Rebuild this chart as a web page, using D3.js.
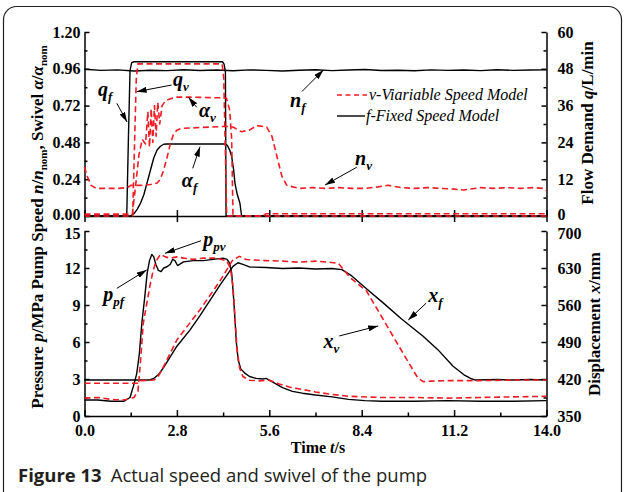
<!DOCTYPE html>
<html>
<head>
<meta charset="utf-8">
<script src="https://cdn.jsdelivr.net/npm/d3@7"></script>
<style>
  body { margin: 0; background: #fff; }
</style>
</head>
<body>
<div id="chart"></div>
<script>

// tick labels
var timeTicks = [0, 2.8, 5.6, 8.4, 11.2, 14];
var ratioTicks = [0, 0.24, 0.48, 0.72, 0.96, 1.2];
var flowTicks = [0, 12, 24, 36, 48, 60];
var pressTicks = [0, 3, 6, 9, 12, 15];
var dispTicks = [350, 420, 490, 560, 630, 700];

// top panel, pump speed n/n_nom (fixed model)
var nfT = [0, 0.5, 1, 1.5, 2, 2.5, 3, 3.5, 4, 4.5, 5, 5.5, 6, 6.5, 7, 7.5, 8, 8.5, 9, 9.5, 10, 10.5, 11, 11.5, 12, 12.5, 13, 13.5, 14];
var nfV = [0.957, 0.950, 0.953, 0.946, 0.951, 0.948, 0.954, 0.949, 0.952, 0.947, 0.953, 0.950, 0.946, 0.951, 0.954, 0.948, 0.952, 0.955, 0.949, 0.951, 0.947, 0.953, 0.950, 0.952, 0.948, 0.954, 0.950, 0.952, 0.953];

// pump speed (variable model)
var nvT = [0, 0.08, 0.2, 0.35, 0.7, 1.0, 1.3, 1.4, 1.7, 2.0, 2.2, 2.3, 2.4, 2.5, 2.6, 2.7, 2.8, 2.95, 3.3, 3.8, 4.3, 4.5, 4.75, 5.0, 5.22, 5.52, 5.68, 5.83, 5.98, 6.13, 6.5, 6.9, 7.3, 7.7, 8.1, 8.5, 8.9, 9.2, 9.6, 10.0, 10.4, 10.8, 11.2, 11.5, 12.0, 12.4, 12.8, 13.2, 13.6, 13.9, 14];
var nvV = [0.32, 0.26, 0.20, 0.18, 0.18, 0.18, 0.185, 0.2, 0.2, 0.205, 0.215, 0.24, 0.3, 0.38, 0.47, 0.535, 0.56, 0.572, 0.575, 0.58, 0.585, 0.58, 0.55, 0.56, 0.59, 0.58, 0.52, 0.39, 0.26, 0.2, 0.18, 0.185, 0.18, 0.185, 0.18, 0.18, 0.19, 0.2, 0.185, 0.18, 0.185, 0.18, 0.175, 0.17, 0.185, 0.18, 0.185, 0.18, 0.185, 0.18, 0.165];

// swivel alpha/alpha_nom
var afT = [0, 1.38, 1.5, 1.6, 1.7, 1.8, 1.9, 2.0, 2.1, 2.2, 2.3, 2.4, 2.5, 4.25, 4.33, 4.4, 4.46, 4.52, 4.56, 4.63, 4.71, 4.76, 14];
var afV = [0, 0, 0.015, 0.045, 0.085, 0.14, 0.22, 0.3, 0.38, 0.43, 0.455, 0.468, 0.47, 0.47, 0.46, 0.43, 0.387, 0.3, 0.213, 0.14, 0.083, 0, 0];
var avT = [0, 1.45, 1.55, 1.65, 1.75, 1.85, 1.92, 1.97, 2.02, 2.07, 2.12, 2.17, 2.22, 2.28, 2.35, 2.45, 2.6, 2.8, 3.2, 4.3, 4.4, 4.46, 4.5, 5.4, 5.5, 14];
var avV = [0.012, 0.012, 0.2, 0.4, 0.5, 0.47, 0.68, 0.45, 0.7, 0.48, 0.72, 0.52, 0.74, 0.6, 0.72, 0.75, 0.765, 0.775, 0.775, 0.77, 0.69, 0.5, 0, 0, 0.015, 0.015];

// flow demand q (L/min)
var qfT = [0, 1.28, 1.33, 1.38, 1.43, 1.5, 4.18, 4.23, 4.27, 4.29, 14];
var qfV = [0, 0, 25, 47.5, 50, 50.3, 50.3, 49.5, 47, 0, 0];
var qvT = [0, 1.46, 1.52, 1.57, 1.62, 4.17, 4.22, 4.27, 4.31, 14];
var qvV = [0, 0, 25, 45, 49.6, 49.6, 45, 20, 0, 0];

// bottom panel, pump pressure p (MPa)
var ppfT = [0, 0.4, 0.8, 1.2, 1.38, 1.48, 1.58, 1.66, 1.74, 1.82, 1.9, 1.97, 2.04, 2.1, 2.16, 2.24, 2.32, 2.4, 2.5, 2.6, 2.67, 2.74, 2.82, 3.0, 3.3, 3.6, 3.9, 4.2, 4.32, 4.4, 4.46, 4.52, 4.56, 4.6, 4.66, 4.74, 4.85, 5.0, 5.2, 5.4, 5.5, 5.6, 5.8, 6.0, 6.3, 6.6, 7.0, 7.5, 8.0, 8.5, 9.0, 10.0, 11.0, 12.0, 13.0, 14.0];
var ppfV = [1.3, 1.3, 1.2, 1.2, 1.5, 2.4, 3.4, 5.0, 7.6, 9.5, 11.6, 12.6, 13.1, 12.9, 12.3, 11.8, 11.7, 12.0, 12.1, 12.3, 12.7, 12.6, 12.2, 12.5, 12.6, 12.6, 12.7, 12.8, 12.7, 12.4, 11.6, 9.5, 7.8, 6.0, 4.5, 3.8, 3.5, 3.2, 3.05, 3.0, 3.05, 2.9, 2.6, 2.3, 2.0, 1.85, 1.7, 1.55, 1.35, 1.25, 1.2, 1.2, 1.25, 1.2, 1.2, 1.25];
var ppvT = [0, 0.4, 0.8, 1.2, 1.5, 1.62, 1.7, 1.78, 1.88, 1.98, 2.08, 2.18, 2.3, 2.45, 2.6, 2.8, 3.0, 3.3, 3.6, 4.0, 4.3, 4.42, 4.5, 4.56, 4.62, 4.7, 4.8, 5.0, 5.3, 5.6, 5.9, 6.2, 6.6, 7.0, 7.5, 8.0, 9.0, 10.0, 11.0, 12.0, 13.0, 14.0];
var ppvV = [1.45, 1.5, 1.35, 1.3, 1.5, 2.0, 4.5, 7.5, 9.0, 10.5, 11.8, 12.6, 13.1, 12.9, 12.8, 12.9, 12.8, 12.7, 12.8, 12.8, 12.6, 12.0, 10.5, 8.0, 5.5, 3.9, 3.2, 2.9, 2.85, 2.9, 2.6, 2.35, 2.15, 1.95, 1.75, 1.6, 1.5, 1.5, 1.45, 1.5, 1.55, 1.6];

// cylinder displacement x (mm)
var xfT = [0, 1.0, 1.95, 2.1, 2.25, 2.4, 2.8, 3.2, 3.5, 4.1, 4.5, 4.65, 4.8, 5.0, 5.5, 6.0, 6.5, 7.0, 7.5, 7.8, 8.1, 8.5, 9.05, 9.6, 10.26, 10.7, 11.17, 11.5, 11.7, 11.85, 12.5, 13.0, 13.5, 14.0];
var xfV = [418, 418, 418, 421, 429, 442, 482, 513, 540, 597, 633, 640, 637, 632, 631, 629, 630, 628, 629, 627, 615, 593, 564, 534, 501, 476, 444, 428, 421, 418, 419, 418, 419, 418];
var xvT = [0, 1.0, 1.62, 1.7, 2.1, 2.2, 2.3, 2.4, 2.8, 3.5, 4.1, 4.5, 4.7, 4.9, 5.5, 6.0, 6.5, 7.0, 7.4, 7.69, 8.05, 8.55, 9.05, 9.65, 10.1, 10.26, 10.5, 11.0, 12.0, 13.0, 14.0];
var xvV = [412, 412, 412, 417, 418, 422, 432, 444, 494, 551, 605, 646, 652, 646, 644, 643, 641, 643, 641, 639, 612, 586, 533, 469, 422, 415, 416, 417, 417, 418, 418];

var serif = "'Liberation Serif', 'Times New Roman', serif";
var red = "#ee1c24";

var svg = d3.select("#chart")
  .append("svg")
    .attr("width", 624)
    .attr("height", 492)
    .style("font-family", serif);

// frame
svg.append("rect")
  .attr("x", 3.5).attr("y", 6.5).attr("width", 618).attr("height", 520).attr("rx", 13)
  .attr("fill", "none").attr("stroke", "#231f20").attr("stroke-width", 1.2);

var x = d3.scaleLinear().domain([0, 14]).range([84.5, 546.5]);
var yR = d3.scaleLinear().domain([0, 1.2]).range([216, 32]);
var yQ = d3.scaleLinear().domain([0, 60]).range([216, 32]);
var yP = d3.scaleLinear().domain([0, 15]).range([416, 231]);
var yD = d3.scaleLinear().domain([350, 700]).range([416, 231]);

function mids(a) {
  return a.slice(1).map(function(d, i) { return (d + a[i]) / 2; });
}

function addAxis(gen, tx, ty, noDomain) {
  var g = svg.append("g")
    .attr("transform", "translate(" + tx + "," + ty + ")")
    .call(gen);
  g.attr("font-family", serif).attr("font-size", 16).attr("font-weight", "bold");
  g.select(".domain").attr("stroke-width", 1.5);
  g.selectAll(".tick line").attr("stroke-width", 1.5);
  if (noDomain) g.select(".domain").remove();
  return g;
}

// nudge the two labels that meet where the panels join
function nudge(g, value, dy) {
  g.selectAll(".tick text").filter(function(d) { return d === value; }).attr("y", dy);
}

// top panel axes
addAxis(d3.axisBottom(x).tickValues(timeTicks).tickFormat("").tickSizeInner(6).tickSizeOuter(0), 0, 216);
addAxis(d3.axisTop(x).tickValues(timeTicks).tickFormat("").tickSizeInner(6).tickSizeOuter(0), 0, 216, true);
var gl = addAxis(d3.axisLeft(yR).tickValues(ratioTicks).tickFormat(d3.format(".2f")).tickSizeInner(-5).tickSizeOuter(0).tickPadding(4), 84.5, 0);
addAxis(d3.axisLeft(yR).tickValues(mids(ratioTicks)).tickFormat("").tickSizeInner(-3).tickSizeOuter(0), 84.5, 0, true);
var gr = addAxis(d3.axisRight(yQ).tickValues(flowTicks).tickFormat(d3.format("d")).tickSizeInner(-5).tickSizeOuter(0).tickPadding(11), 546.5, 0);
addAxis(d3.axisRight(yQ).tickValues(mids(flowTicks)).tickFormat("").tickSizeInner(-3).tickSizeOuter(0), 546.5, 0, true);
nudge(gl, 0, -2);
nudge(gr, 0, -2);

// bottom panel axes
addAxis(d3.axisBottom(x).tickValues(timeTicks).tickFormat(d3.format(".1f")).tickSizeInner(-6).tickSizeOuter(0).tickPadding(9), 0, 416);
addAxis(d3.axisBottom(x).tickValues(mids(timeTicks)).tickFormat("").tickSizeInner(-3.5).tickSizeOuter(0), 0, 416, true);
var bl = addAxis(d3.axisLeft(yP).tickValues(pressTicks).tickFormat(d3.format("d")).tickSizeInner(-5).tickSizeOuter(0).tickPadding(4), 84.5, 0);
addAxis(d3.axisLeft(yP).tickValues(mids(pressTicks)).tickFormat("").tickSizeInner(-3).tickSizeOuter(0), 84.5, 0, true);
var br = addAxis(d3.axisRight(yD).tickValues(dispTicks).tickFormat(d3.format("d")).tickSizeInner(-5).tickSizeOuter(0).tickPadding(11), 546.5, 0);
addAxis(d3.axisRight(yD).tickValues(mids(dispTicks)).tickFormat("").tickSizeInner(-3).tickSizeOuter(0), 546.5, 0, true);
nudge(bl, 15, 2);
nudge(br, 700, 2);

// curves
function plot(T, V, ys, dashed) {
  var line = d3.line()
    .x(function(d, i) { return x(T[i]); })
    .y(function(d) { return ys(d); });
  svg.append("path")
    .datum(V)
    .attr("d", line)
    .attr("fill", "none")
    .attr("stroke", dashed ? red : "#000")
    .attr("stroke-width", dashed ? 1.6 : 1.4)
    .attr("stroke-dasharray", dashed ? "6,3.5" : null)
    .attr("stroke-linejoin", "round");
}

plot(nfT, nfV, yR, false);
plot(afT, afV, yR, false);
plot(qfT, qfV, yQ, false);
plot(ppfT, ppfV, yP, false);
plot(xfT, xfV, yD, false);

plot(nvT, nvV, yR, true);
plot(avT, avV, yR, true);
plot(qvT, qvV, yQ, true);
plot(ppvT, ppvV, yP, true);
plot(xvT, xvV, yD, true);

// arrow head
svg.append("defs").append("marker")
    .attr("id", "head")
    .attr("viewBox", "0 0 10 6")
    .attr("refX", 10).attr("refY", 3)
    .attr("markerWidth", 10).attr("markerHeight", 6)
    .attr("markerUnits", "userSpaceOnUse")
    .attr("orient", "auto")
  .append("path")
    .attr("d", "M0,0L10,3L0,6Z")
    .attr("fill", "#000");

// annotations (t, value on left-hand scale of each panel)
var notes = [
  {m: "q", s: "f",  ys: yR, t: 0.41, v: 0.783, from: [0.98, 0.735], to: [1.29, 0.613]},
  {m: "q", s: "v",  ys: yR, t: 2.68, v: 0.848, from: [2.64, 0.854], to: [1.58, 0.811]},
  {m: "α", s: "v",  ys: yR, t: 3.47, v: 0.648, from: [3.40, 0.709], to: [3.15, 0.774]},
  {m: "α", s: "f",  ys: yR, t: 2.95, v: 0.191, from: [3.28, 0.311], to: [3.50, 0.452]},
  {m: "n", s: "f",  ys: yR, t: 6.23, v: 0.709, from: [6.59, 0.812], to: [7.24, 0.952]},
  {m: "n", s: "v",  ys: yR, t: 8.20, v: 0.333, from: [8.25, 0.318], to: [7.29, 0.202]},
  {m: "p", s: "pf", ys: yP, t: 0.57, v: 9.32,  from: [0.98, 10.35], to: [1.885, 11.84]},
  {m: "p", s: "pv", ys: yP, t: 3.60, v: 13.78, from: [3.53, 14.21], to: [2.44, 13.19]},
  {m: "x", s: "f",  ys: yP, t: 10.42, v: 9.27, from: [10.35, 9.14], to: [9.81, 7.78]},
  {m: "x", s: "v",  ys: yP, t: 7.24, v: 5.49,  from: [7.72, 6.49], to: [8.90, 7.30]}
];

notes.forEach(function(n) {
  svg.append("line")
    .attr("x1", x(n.from[0])).attr("y1", n.ys(n.from[1]))
    .attr("x2", x(n.to[0])).attr("y2", n.ys(n.to[1]))
    .attr("stroke", "#000").attr("stroke-width", 1)
    .attr("marker-end", "url(#head)");
  var t = svg.append("text")
    .attr("x", x(n.t)).attr("y", n.ys(n.v))
    .attr("font-weight", "bold").attr("font-style", "italic")
    .attr("font-size", 20);
  t.append("tspan").text(n.m);
  t.append("tspan").attr("font-size", 13).attr("dy", 5).text(n.s);
});

// legend
svg.append("line").attr("x1", 337).attr("x2", 367).attr("y1", 95).attr("y2", 95)
  .attr("stroke", red).attr("stroke-width", 1.6).attr("stroke-dasharray", "5,3.5");
svg.append("text").attr("x", 369).attr("y", 100).attr("font-style", "italic").attr("font-size", 16)
  .text("v-Viariable Speed Model");
svg.append("line").attr("x1", 337).attr("x2", 365).attr("y1", 116).attr("y2", 116)
  .attr("stroke", "#000").attr("stroke-width", 1.4);
svg.append("text").attr("x", 366).attr("y", 121).attr("font-style", "italic").attr("font-size", 16)
  .text("f-Fixed Speed Model");

// axis titles
var lt = svg.append("text")
  .attr("transform", "translate(43,227) rotate(-90)")
  .attr("text-anchor", "middle").attr("font-weight", "bold").attr("font-size", 17);
lt.append("tspan").text("Pressure ");
lt.append("tspan").attr("font-style", "italic").text("p");
lt.append("tspan").text("/MPa Pump Speed ");
lt.append("tspan").attr("font-style", "italic").text("n");
lt.append("tspan").text("/");
lt.append("tspan").attr("font-style", "italic").text("n");
lt.append("tspan").attr("font-size", 11).attr("dy", 4).text("nom");
lt.append("tspan").attr("dy", -4).text(", Swivel ");
lt.append("tspan").attr("font-style", "italic").text("α");
lt.append("tspan").text("/");
lt.append("tspan").attr("font-style", "italic").text("α");
lt.append("tspan").attr("font-size", 11).attr("dy", 4).text("nom");

var rt = svg.append("text")
  .attr("transform", "translate(593,123) rotate(-90)")
  .attr("text-anchor", "middle").attr("font-weight", "bold").attr("font-size", 17);
rt.append("tspan").text("Flow Demand ");
rt.append("tspan").attr("font-style", "italic").text("q");
rt.append("tspan").text("/L/min");

var rb = svg.append("text")
  .attr("transform", "translate(600,324) rotate(-90)")
  .attr("text-anchor", "middle").attr("font-weight", "bold").attr("font-size", 17);
rb.append("tspan").text("Displacement ");
rb.append("tspan").attr("font-style", "italic").text("x");
rb.append("tspan").text("/mm");

var xt = svg.append("text")
  .attr("x", 318).attr("y", 453)
  .attr("text-anchor", "middle").attr("font-weight", "bold").attr("font-size", 16);
xt.append("tspan").text("Time ");
xt.append("tspan").attr("font-style", "italic").text("t");
xt.append("tspan").text("/s");

// caption
var cap = svg.append("text")
  .attr("x", 18).attr("y", 482)
  .style("font-family", "'Open Sans', 'Noto Sans', sans-serif")
  .attr("font-size", 18.5).attr("fill", "#231f20");
cap.append("tspan").attr("font-weight", "bold").text("Figure 13");
cap.append("tspan").attr("dx", 9).text("Actual speed and swivel of the pump");

</script>
</body>
</html>
